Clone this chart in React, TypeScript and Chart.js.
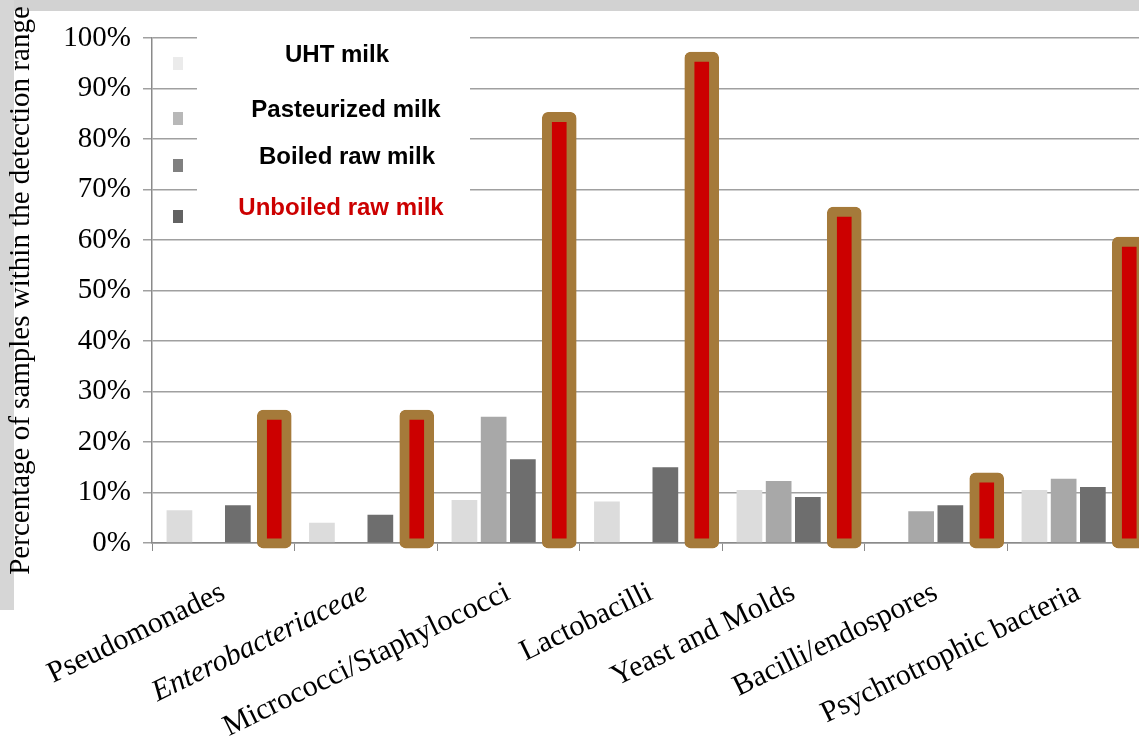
import React, { useEffect, useRef } from "react";
import { Chart, registerables } from "chart.js";

Chart.register(...registerables);

const categories = [
  "Pseudomonades",
  "Enterobacteriaceae",
  "Micrococci/Staphylococci",
  "Lactobacilli",
  "Yeast and Molds",
  "Bacilli/endospores",
  "Psychrotrophic bacteria",
];
const seriesNames = ["UHT milk", "Pasteurized milk", "Boiled raw milk", "Unboiled raw milk"];
const uhtMilk = [6.5, 4, 8.5, 8.2, 10.5, 0, 10.5];
const pasteurizedMilk = [0, 0, 25, 0, 12.3, 6.3, 12.7];
const boiledRawMilk = [7.5, 5.6, 16.6, 15, 9.1, 7.5, 11.1];
const unboiledRawMilk = [26.3, 26.3, 85.3, 97.2, 66.5, 13.9, 60.6];
const yTicks = [0, 10, 20, 30, 40, 50, 60, 70, 80, 90, 100];
const yTitle = "Percentage of samples within the detection range";

const legendColors = ["#dedede", "#ababab", "#6a6a6a", "#474747"];
const legendTextColors = ["#000000", "#000000", "#000000", "#cc0000"];

const overlayPlugin = {
  id: "legendOverlay",
  beforeDatasetsDraw(chart: any) {
    const ctx = chart.ctx;
    ctx.save();
    ctx.fillStyle = "#ffffff";
    ctx.fillRect(197, 30, 273, 202);
    const rows = [55, 110, 157, 208];
    const centers = [337, 346, 347, 341];
    ctx.font = "bold 24px 'Liberation Sans', Arial, sans-serif";
    ctx.textAlign = "center";
    ctx.textBaseline = "middle";
    rows.forEach((y, i) => {
      ctx.fillStyle = legendColors[i];
      ctx.globalAlpha = i === 0 ? 0.6 : 0.85;
      ctx.fillRect(173, y + 2, 10, 13);
      ctx.globalAlpha = 1;
      ctx.fillStyle = legendTextColors[i];
      ctx.fillText(seriesNames[i], centers[i], y);
    });
    ctx.restore();
  },
};

export default function App() {
  const ref = useRef<HTMLCanvasElement | null>(null);
  useEffect(() => {
    if (!ref.current) return;
    const chart = new Chart(ref.current, {
      type: "bar",
      data: {
        labels: categories,
        datasets: [
          {
            label: seriesNames[0],
            data: uhtMilk,
            backgroundColor: "#dcdcdc",
            barPercentage: 0.88,
            categoryPercentage: 0.82,
          },
          {
            label: seriesNames[1],
            data: pasteurizedMilk,
            backgroundColor: "#a8a8a8",
            barPercentage: 0.88,
            categoryPercentage: 0.82,
          },
          {
            label: seriesNames[2],
            data: boiledRawMilk,
            backgroundColor: "#6e6e6e",
            barPercentage: 0.88,
            categoryPercentage: 0.82,
          },
          {
            label: seriesNames[3],
            data: unboiledRawMilk,
            backgroundColor: "#cc0000",
            borderColor: "#a57a3a",
            borderWidth: 10,
            borderRadius: 6,
            borderSkipped: false,
            barThickness: 34,
            categoryPercentage: 0.82,
            base: -1,
            clip: false,
          } as any,
        ],
      },
      options: {
        animation: false,
        responsive: false,
        devicePixelRatio: 1,
        layout: { padding: { top: 38, right: 10.5, left: 0, bottom: 0 } },
        plugins: {
          legend: { display: false },
          tooltip: { enabled: false },
        },
        scales: {
          x: {
            afterFit: (scale: any) => {
              scale.height = 193;
            },
            grid: {
              display: true,
              drawOnChartArea: false,
              drawTicks: true,
              tickLength: 8,
              color: "#8a8a8a",
              offset: true,
            },
            border: { display: true, color: "#8a8a8a", width: 1.5 },
            ticks: {
              autoSkip: false,
              maxRotation: 26,
              minRotation: 26,
              padding: 24,
              color: "#000000",
              font: (c: any) => ({
                family: "'Liberation Serif', 'DejaVu Serif', serif",
                size: 30,
                style: c.index === 1 ? "italic" : "normal",
              }),
            },
          },
          y: {
            min: 0,
            max: 100,
            afterFit: (scale: any) => {
              scale.width = 152;
            },
            afterBuildTicks: (scale: any) => {
              scale.ticks = yTicks.map((v) => ({ value: v }));
            },
            grid: {
              color: "#a0a0a0",
              lineWidth: 1.5,
              tickLength: 9,
              drawTicks: true,
            },
            border: { display: true, color: "#8a8a8a", width: 1.5 },
            ticks: {
              padding: 12,
              color: "#000000",
              font: { family: "'Liberation Serif', 'DejaVu Serif', serif", size: 29 },
              callback: (v: any) => v + "%",
            },
            title: {
              display: true,
              text: yTitle,
              color: "#000000",
              font: { family: "'Liberation Serif', 'DejaVu Serif', serif", size: 29 },
              padding: { top: 4, bottom: 0 },
            },
          },
        },
      },
      plugins: [overlayPlugin],
    });
    return () => chart.destroy();
  }, []);

  return (
    <div
      style={{
        position: "fixed",
        top: 0,
        left: 0,
        width: 1139,
        height: 736,
        overflow: "hidden",
        background: "#ffffff",
      }}
    >
      <div style={{ position: "absolute", top: 0, left: 0, width: 1139, height: 11, background: "#d2d2d2" }} />
      <div style={{ position: "absolute", top: 0, left: 0, width: 14, height: 610, background: "#d6d6d6" }} />
      <canvas
        ref={ref}
        width={1160}
        height={736}
        style={{ position: "absolute", top: 0, left: 0, width: 1160, height: 736 }}
      />
    </div>
  );
}
